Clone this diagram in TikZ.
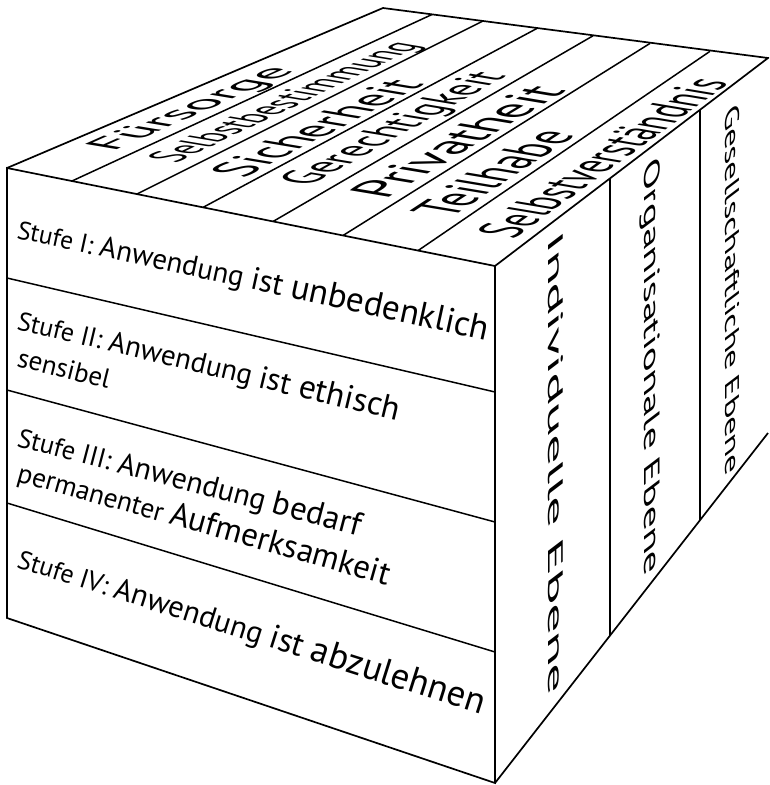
\documentclass[tikz,border=0pt]{standalone}
\usepackage{graphicx}
\usepackage{fontspec}
\setmainfont{PT Sans}
\newcommand\fw[1]{\fontsize{#1}{#1}\selectfont}
\newcommand\fitbox[3]{\resizebox{#1}{#2}{\rule{0pt}{0.72em}#3}}
\newcommand\wsp{\ \null}
\tikzset{
  edge/.style={line width=1.7pt, line join=miter, line cap=butt},
  thin/.style={line width=1.5pt},
  ftxt/.style={inner sep=0pt, outer sep=0pt, anchor=base west},
  lbl/.style={inner sep=0pt, outer sep=0pt, anchor=base west, transform shape}
}
\begin{document}
\begin{tikzpicture}[x=1pt,y=1pt]
\useasboundingbox (0,0) rectangle (769,-785);
\clip (0,0) rectangle (769,-785);
% corners
\coordinate (A) at (7,-168);
\coordinate (B) at (495,-266);
\coordinate (C) at (7,-618);
\coordinate (D) at (495,-783);
\coordinate (E) at (383,-8);
\coordinate (F) at (768,-58);
\coordinate (G) at (768,-433);
% faces
\draw[edge] (A) -- (B) -- (D) -- (C) -- cycle;
\draw[edge] (A) -- (E) -- (F) -- (B);
\draw[edge] (D) -- (G);
% front dividers
\coordinate (fl1) at (7,-278);   \coordinate (fr1) at (495,-392);
\coordinate (fl2) at (7,-390);   \coordinate (fr2) at (495,-522);
\coordinate (fl3) at (7,-503);   \coordinate (fr3) at (495,-652);
\draw[thin] (fl1) -- (fr1);
\draw[thin] (fl2) -- (fr2);
\draw[thin] (fl3) -- (fr3);
% top strips
\coordinate (tf1) at (72,-181);    \coordinate (tb1) at (432,-14.5);
\coordinate (tf2) at (137,-194);   \coordinate (tb2) at (483,-21);
\coordinate (tf3) at (203,-207.4); \coordinate (tb3) at (537,-28.4);
\coordinate (tf4) at (273,-221.5); \coordinate (tb4) at (593,-35.8);
\coordinate (tf5) at (343,-235.5); \coordinate (tb5) at (650,-43.4);
\coordinate (tf6) at (418,-250.6); \coordinate (tb6) at (710,-51.3);
\foreach \i in {1,...,6} { \draw[thin] (tf\i) -- (tb\i); }
% side dividers
\coordinate (st1) at (610,-178.4); \coordinate (sb1) at (610,-635.6);
\coordinate (st2) at (700,-109.8); \coordinate (sb2) at (700,-520);
\draw[thin] (st1) -- (sb1);
\draw[thin] (st2) -- (sb2);
% top labels (sheared onto the top face)
\begin{scope}[shift={(112.5,-151.9)}, cm={0.9143,0.4051,-0.986,0.165,(0,0)}]
  \node[lbl] (t1) at (0,0) {\fitbox{201.8pt}{33pt}{Fürsorge}};
\end{scope}
\begin{scope}[shift={(175.5,-163.4)}, cm={0.9026,0.4305,-0.986,0.165,(0,0)}]
  \node[lbl] (t2) at (0,0) {\fitbox{273pt}{33pt}{Selbstbestimmung}};
\end{scope}
\begin{scope}[shift={(243.4,-178.2)}, cm={0.8886,0.4586,-0.986,0.165,(0,0)}]
  \node[lbl] (t3) at (0,0) {\fitbox{204.4pt}{39pt}{Sicherheit}};
\end{scope}
\begin{scope}[shift={(308.5,-186.9)}, cm={0.8729,0.4879,-0.986,0.165,(0,0)}]
  \node[lbl] (t4) at (0,0) {\fitbox{227.4pt}{36pt}{Gerechtigkeit}};
\end{scope}
\begin{scope}[shift={(385.4,-199.9)}, cm={0.8563,0.5165,-0.986,0.165,(0,0)}]
  \node[lbl] (t5) at (0,0) {\fitbox{212pt}{41pt}{Privatheit}};
\end{scope}
\begin{scope}[shift={(450,-218.1)}, cm={0.8368,0.5476,-0.986,0.165,(0,0)}]
  \node[lbl] (t6) at (0,0) {\fitbox{151.8pt}{43pt}{Teilhabe}};
\end{scope}
\begin{scope}[shift={(513.4,-239.3)}, cm={0.8111,0.5850,-0.986,0.165,(0,0)}]
  \node[lbl] (t7) at (0,0) {\fitbox{267pt}{41pt}{Selbstverständnis}};
\end{scope}
% side labels (sheared onto the side face)
\begin{scope}[shift={(548,-239.5)}, cm={0,-1,0.796,0.606,(0,0)}]
  \node[lbl] (s1) at (0,0) {\fitbox{458.5pt}{19pt}{Individuelle Ebene}};
\end{scope}
\begin{scope}[shift={(644.5,-165)}, cm={0,-1,0.796,0.606,(0,0)}]
  \node[lbl] (s2) at (0,0) {\fitbox{413pt}{20pt}{Organisationale Ebene}};
\end{scope}
\begin{scope}[shift={(725,-111)}, cm={0,-1,0.796,0.606,(0,0)}]
  \node[lbl] (s3) at (0,0) {\fitbox{367pt}{18pt}{Gesellschaftliche Ebene}};
\end{scope}
% front labels, row 1
\node[ftxt, rotate=-12.3, font=\fw{25.5}] (r1a) at (16,-238) {Stufe\wsp};
\node[ftxt, rotate=-12.3, font=\fw{26.5}] (r1b) at (r1a.base east) {I:\wsp};
\node[ftxt, rotate=-12.3, font=\fw{29}] (r1c) at (r1b.base east) {Anwendung\wsp};
\node[ftxt, rotate=-12.3, font=\fw{31.5}] (r1d) at (r1c.base east) {ist\wsp};
\node[ftxt, rotate=-12.3, font=\fw{35}] (r1e) at (r1d.base east) {unbedenklich};
% row 2
\node[ftxt, rotate=-13.5, font=\fw{26}] (r2a) at (16,-329) {Stufe\wsp};
\node[ftxt, rotate=-13.5, font=\fw{27}] (r2b) at (r2a.base east) {II:\wsp};
\node[ftxt, rotate=-13.5, font=\fw{29}] (r2c) at (r2b.base east) {Anwendung\wsp};
\node[ftxt, rotate=-13.5, font=\fw{31.5}] (r2d) at (r2c.base east) {ist\wsp};
\node[ftxt, rotate=-13.5, font=\fw{33.5}] (r2e) at (r2d.base east) {ethisch};
\node[ftxt, rotate=-14, font=\fw{27}] (r2f) at (16,-366) {sensibel};
% row 3
\node[ftxt, rotate=-14.7, font=\fw{26.5}] (r3a) at (16,-446) {Stufe\wsp};
\node[ftxt, rotate=-14.7, font=\fw{27.5}] (r3b) at (r3a.base east) {III:\wsp};
\node[ftxt, rotate=-14.7, font=\fw{30}] (r3c) at (r3b.base east) {Anwendung\wsp};
\node[ftxt, rotate=-14.7, font=\fw{33}] (r3d) at (r3c.base east) {bedarf};
\node[ftxt, rotate=-15.7, font=\fw{27.5}] (r3e) at (16,-481) {permanenter\wsp};
\node[ftxt, rotate=-15.7, font=\fw{33}] (r3f) at (r3e.base east) {Aufmerksamkeit};
% row 4
\node[ftxt, rotate=-17.6, font=\fw{26}] (r4a) at (16,-567) {Stufe\wsp};
\node[ftxt, rotate=-17.6, font=\fw{27}] (r4b) at (r4a.base east) {IV:\wsp};
\node[ftxt, rotate=-17.6, font=\fw{30.5}] (r4c) at (r4b.base east) {Anwendung\wsp};
\node[ftxt, rotate=-17.6, font=\fw{33.5}] (r4d) at (r4c.base east) {ist\wsp};
\node[ftxt, rotate=-17.6, font=\fw{36.5}] (r4e) at (r4d.base east) {abzulehnen};
\end{tikzpicture}
\end{document}
